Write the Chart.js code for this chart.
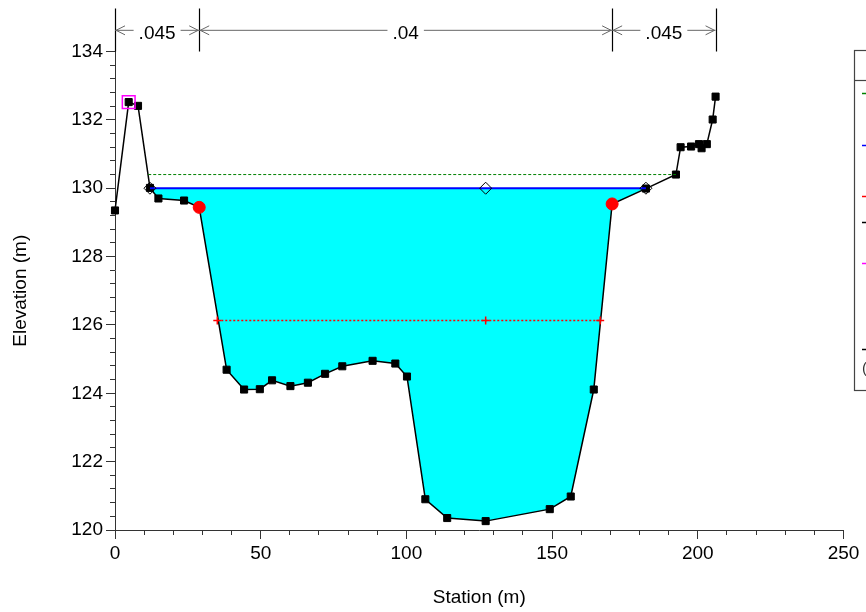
<!DOCTYPE html>
<html>
<head>
<meta charset="utf-8">
<title>Cross Section</title>
<script src="https://cdn.jsdelivr.net/npm/chart.js@4.4.1/dist/chart.umd.min.js"></script>
<style>
  html, body { margin: 0; padding: 0; background: #fff; overflow: hidden; }
  #wrap { width: 866px; height: 612px; }
</style>
</head>
<body>
<div id="wrap"><canvas id="xsChart" width="866" height="612"></canvas></div>
<script>
// ground survey points (station m / elevation m)
const groundSta = [0, 4.7, 7.9, 12.0, 14.9, 23.7, 28.9, 38.3, 44.3, 49.7, 53.9, 60.2, 66.2, 72.1, 78.0, 88.4, 96.2, 100.2,
  106.5, 114.0, 127.2, 149.2, 156.4, 164.3, 170.6, 182.2, 192.5, 194.1, 197.7, 200.4, 201.3, 203.1, 205.1, 206.1];
const groundElev = [129.35, 132.52, 132.41, 130.01, 129.70, 129.64, 129.44, 124.69, 124.11, 124.12, 124.38, 124.21, 124.31, 124.57, 124.79, 124.95, 124.87, 124.49,
  120.90, 120.35, 120.26, 120.61, 120.98, 124.11, 129.54, 129.99, 130.40, 131.20, 131.22, 131.29, 131.17, 131.29, 132.01, 132.68];

// water surface, energy grade, critical depth
const wsSta = [12.0, 127.2, 182.2];
const wsElev = [130.0, 130.0, 130.0];
const egSta = [11.4, 192.5];
const egElev = [130.40, 130.40];
const critSta = [35.1, 127.2, 166.5];
const critElev = [126.13, 126.13, 126.13];

// bank stations and levee
const bankSta = [28.9, 170.6];
const bankElev = [129.44, 129.54];
const leveeSta = [4.7];
const leveeElev = [132.52];

// Manning's n breaks along the top
const nBreaks = [0, 28.9, 170.6, 206.1];
const nValues = ['.045', '.04', '.045'];

const xTicks = [0, 50, 100, 150, 200, 250];
const yTicks = [120, 122, 124, 126, 128, 130, 132, 134];
const yTitle = 'Elevation (m)';

const FONT = '"Liberation Sans", Arial, sans-serif';
Chart.defaults.font.family = FONT;
Chart.defaults.font.size = 19;
Chart.defaults.color = '#000';

function pts(xs, ys) {
  return xs.map((v, i) => ({x: v, y: ys[i]}));
}

const axisColor = '#333';

const nValuePlugin = {
  id: 'nValues',
  afterDraw(chart) {
    const {ctx, chartArea, scales: {x, y}} = chart;
    const top = chartArea.top - 2;
    const bottom = y.getPixelForValue(134);
    const lineY = y.getPixelForValue(134.62);
    ctx.save();
    ctx.font = '19px ' + FONT;
    ctx.textAlign = 'center';
    ctx.textBaseline = 'middle';
    // vertical break lines
    ctx.strokeStyle = '#000';
    ctx.lineWidth = 1.2;
    nBreaks.forEach(b => {
      const px = Math.round(x.getPixelForValue(b)) + 0.5;
      ctx.beginPath();
      ctx.moveTo(px, top);
      ctx.lineTo(px, bottom);
      ctx.stroke();
    });
    for (let i = 0; i < nValues.length; i++) {
      const x1 = x.getPixelForValue(nBreaks[i]);
      const x2 = x.getPixelForValue(nBreaks[i + 1]);
      const mid = (x1 + x2) / 2;
      const w = ctx.measureText(nValues[i]).width;
      ctx.strokeStyle = '#666';
      ctx.lineWidth = 1;
      ctx.beginPath();
      ctx.moveTo(x1, lineY);
      ctx.lineTo(mid - w / 2 - 5, lineY);
      ctx.moveTo(mid + w / 2 + 5, lineY);
      ctx.lineTo(x2, lineY);
      // arrow heads
      ctx.moveTo(x1 + 10, lineY - 4.5);
      ctx.lineTo(x1 + 1, lineY);
      ctx.lineTo(x1 + 10, lineY + 4.5);
      ctx.moveTo(x2 - 10, lineY - 4.5);
      ctx.lineTo(x2 - 1, lineY);
      ctx.lineTo(x2 - 10, lineY + 4.5);
      ctx.stroke();
      ctx.fillStyle = '#000';
      ctx.fillText(nValues[i], mid, lineY + 3);
    }
    ctx.restore();
  }
};

// y title centred on the labelled tick range (120..134)
const yTitlePlugin = {
  id: 'yTitle',
  afterDraw(chart) {
    const {ctx, scales: {y}} = chart;
    const cy = (y.getPixelForValue(yTicks[0]) + y.getPixelForValue(yTicks[yTicks.length - 1])) / 2;
    ctx.save();
    ctx.translate(21, cy);
    ctx.rotate(-Math.PI / 2);
    ctx.font = '19px ' + FONT;
    ctx.fillStyle = '#000';
    ctx.textAlign = 'center';
    ctx.textBaseline = 'middle';
    ctx.fillText(yTitle, 0, 0);
    ctx.restore();
  }
};

// legend box, mostly cut off at the right edge
const legendPlugin = {
  id: 'sideLegend',
  afterDraw(chart) {
    const {ctx} = chart;
    ctx.save();
    ctx.strokeStyle = '#444';
    ctx.lineWidth = 1.2;
    ctx.strokeRect(854.5, 50.5, 80, 340);
    ctx.beginPath();
    ctx.moveTo(854, 80.5);
    ctx.lineTo(866, 80.5);
    ctx.stroke();
    const items = [
      {y: 93, color: '#008000'},
      {y: 145, color: '#0000ff'},
      {y: 196, color: '#ff0000'},
      {y: 222, color: '#000'},
      {y: 263, color: '#ff00ff'},
      {y: 349, color: '#000'}
    ];
    ctx.lineWidth = 1.5;
    items.forEach(it => {
      ctx.strokeStyle = it.color;
      ctx.beginPath();
      ctx.moveTo(862, it.y + 0.5);
      ctx.lineTo(880, it.y + 0.5);
      ctx.stroke();
    });
    ctx.fillStyle = '#333';
    ctx.font = '15px ' + FONT;
    ctx.textBaseline = 'middle';
    ctx.fillText('(', 862, 369);
    ctx.restore();
  }
};

const ctx = document.getElementById('xsChart').getContext('2d');
new Chart(ctx, {
  type: 'line',
  data: {
    datasets: [
      {
        label: 'Levee',
        data: pts(leveeSta, leveeElev),
        showLine: false,
        pointStyle: 'rect',
        pointRadius: 9,
        pointBorderColor: '#ff00ff',
        pointBackgroundColor: 'rgba(0,0,0,0)',
        pointBorderWidth: 1.5,
        clip: false
      },
      {
        label: 'Bank Sta',
        data: pts(bankSta, bankElev),
        showLine: false,
        pointStyle: 'circle',
        pointRadius: 6,
        pointBorderColor: '#ff0000',
        pointBackgroundColor: '#ff0000',
        pointBorderWidth: 1,
        clip: false
      },
      {
        label: 'Crit PF 1',
        data: pts(critSta, critElev),
        borderColor: '#ff0000',
        borderWidth: 1.5,
        borderDash: [2, 2],
        pointStyle: 'cross',
        pointRadius: 4,
        pointBorderColor: '#ff0000',
        pointBorderWidth: 1.5,
        fill: false
      },
      {
        label: 'WS PF 1',
        data: pts(wsSta, wsElev),
        borderColor: '#0000ff',
        borderWidth: 2,
        pointStyle: 'rectRot',
        pointRadius: 6,
        pointBorderColor: '#000',
        pointBackgroundColor: 'rgba(0,0,0,0)',
        pointBorderWidth: 1,
        fill: false
      },
      {
        label: 'EG PF 1',
        data: pts(egSta, egElev),
        borderColor: '#008000',
        borderWidth: 1,
        borderDash: [3, 2],
        pointRadius: 0,
        fill: false
      },
      {
        label: 'Ground',
        data: pts(groundSta, groundElev),
        borderColor: '#000',
        borderWidth: 1.5,
        pointStyle: 'rect',
        pointRadius: 5,
        pointBorderColor: '#000',
        pointBackgroundColor: '#000',
        pointBorderWidth: 1,
        fill: {target: 3, above: '#00ffff', below: '#00ffff'},
        clip: 10
      }
    ]
  },
  options: {
    responsive: false,
    animation: false,
    layout: {padding: {left: 0, top: 8, right: 22.5, bottom: 0}},
    plugins: {
      legend: {display: false},
      tooltip: {enabled: false}
    },
    elements: {line: {tension: 0}},
    scales: {
      x: {
        type: 'linear',
        position: 'bottom',
        min: xTicks[0],
        max: xTicks[xTicks.length - 1],
        afterBuildTicks: s => { s.ticks = xTicks.map(v => ({value: v})); },
        ticks: {padding: 3, color: '#000'},
        grid: {drawOnChartArea: false, tickLength: 9, tickColor: axisColor},
        border: {color: axisColor, width: 1},
        title: {display: true, text: 'Station (m)', color: '#000', font: {size: 19}, padding: {top: 4, bottom: 3}},
        afterFit: s => { s.height = 82; s.paddingLeft = 0; s.paddingRight = 0; }
      },
      y: {
        type: 'linear',
        position: 'left',
        min: 120,
        max: 135.2,
        afterBuildTicks: s => { s.ticks = yTicks.map(v => ({value: v})); },
        ticks: {padding: 3, color: '#000'},
        grid: {drawOnChartArea: false, tickLength: 9, tickColor: axisColor},
        border: {color: axisColor, width: 1},
        afterFit: s => { s.width = 115; s.paddingTop = 0; s.paddingBottom = 0; }
      },
      xMinor: {
        type: 'linear',
        axis: 'x',
        position: {y: 120},
        min: xTicks[0],
        max: xTicks[xTicks.length - 1],
        ticks: {display: false, stepSize: 10},
        grid: {drawOnChartArea: false, tickLength: 5, tickColor: axisColor},
        border: {display: false},
        afterFit: s => { s.paddingLeft = 0; s.paddingRight = 0; s.paddingTop = 0; s.paddingBottom = 0; }
      },
      yMinor: {
        type: 'linear',
        axis: 'y',
        position: {x: 0},
        min: 120,
        max: 135.2,
        ticks: {display: false, stepSize: 0.4, includeBounds: false},
        afterBuildTicks: s => { s.ticks = s.ticks.filter(t => t.value <= 134.01); },
        grid: {drawOnChartArea: false, tickLength: 5, tickColor: axisColor},
        border: {display: false},
        afterFit: s => { s.paddingLeft = 0; s.paddingRight = 0; s.paddingTop = 0; s.paddingBottom = 0; }
      }
    }
  },
  plugins: [nValuePlugin, yTitlePlugin, legendPlugin]
});
</script>
</body>
</html>
